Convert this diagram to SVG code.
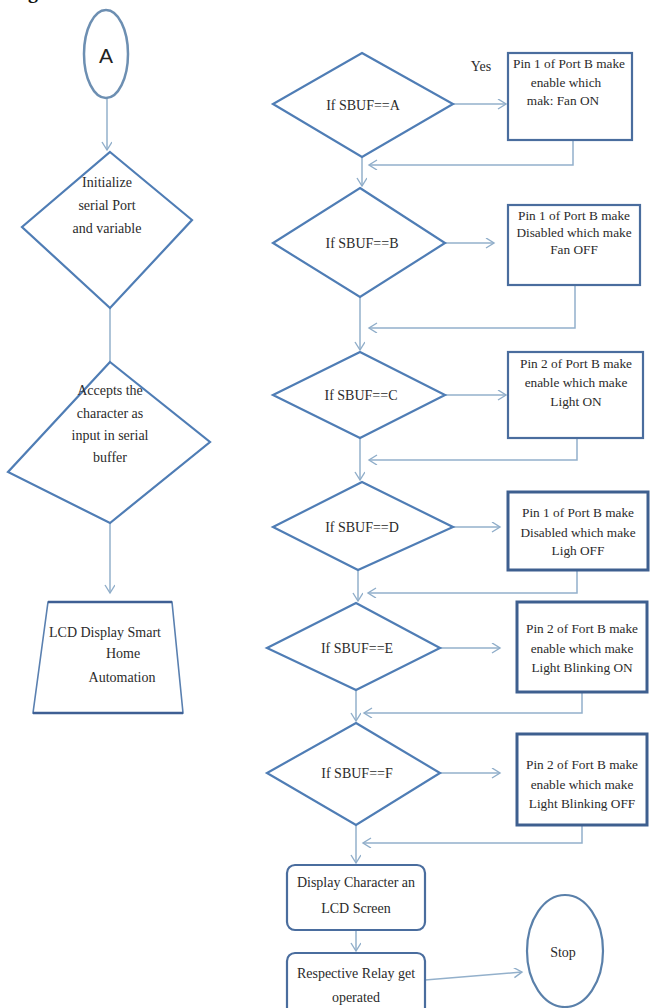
<svg xmlns="http://www.w3.org/2000/svg" width="650" height="1008" viewBox="0 0 650 1008">
<defs>
<marker id="arr" markerUnits="userSpaceOnUse" markerWidth="12" markerHeight="12" refX="9" refY="5" orient="auto">
<path d="M1,0 L9,5 L1,10" fill="none" stroke="#8fadc9" stroke-width="1.4"/>
</marker>
<style>
.t{font-family:"Liberation Serif","Times New Roman",serif;font-size:14px;fill:#2b2b2b;text-anchor:middle}
.s{font-size:13.3px}
.d{fill:#fff;stroke:#4f7db5;stroke-width:2.2}
.b{fill:#fff;stroke:#4a6d9e;stroke-width:2.2}
.bk{fill:#fff;stroke:#3e5f8f;stroke-width:3}
.c{fill:none;stroke:#93b0cb;stroke-width:1.5}
.ca{fill:none;stroke:#93b0cb;stroke-width:1.5;marker-end:url(#arr)}
</style>
</defs>
<rect width="650" height="1008" fill="#fff"/>
<text x="28" y="-2" font-family="Liberation Serif, serif" font-size="20" font-weight="bold" fill="#111">g</text>

<g id="connectors">
<path class="ca" d="M107,98 V150"/>
<path class="c" d="M110,308 V362"/>
<path class="ca" d="M110,523 V593"/>
<path class="ca" d="M362,157 V186"/>
<path class="ca" d="M360,297 V350"/>
<path class="ca" d="M360,438 V480"/>
<path class="ca" d="M358,570 V601"/>
<path class="ca" d="M356,690 V721"/>
<path class="ca" d="M356,825 V863"/>
<path class="ca" d="M356,930 V951"/>
<path class="ca" d="M453,104 H506"/>
<path class="ca" d="M445,243 H494"/>
<path class="ca" d="M445,395 H506"/>
<path class="ca" d="M453,527 H500"/>
<path class="ca" d="M440,648 H500"/>
<path class="ca" d="M440,773 H500"/>
<path class="ca" d="M573,140 V165 H369"/>
<path class="ca" d="M575,285 V328 H369"/>
<path class="ca" d="M577,438 V460 H369"/>
<path class="ca" d="M577,570 V593 H368"/>
<path class="ca" d="M582,692 V713 H364"/>
<path class="ca" d="M582,825 V843 H363"/>
<path class="ca" d="M425,980 L522,972"/>
<text x="481" y="71" class="t" font-size="13">Yes</text>
</g>

<g id="start">
<ellipse cx="106" cy="54" rx="22" ry="44" fill="#fff" stroke="#6d8fb2" stroke-width="2.5"/>
<text x="106" y="63" font-family="Liberation Sans, Arial, sans-serif" font-size="21" fill="#222" text-anchor="middle">A</text>
</g>

<g id="init">
<polygon class="d" points="110,152 192,220 110,308 22,227"/>
<text class="t" x="107" y="187">Initialize</text>
<text class="t" x="107" y="210">serial Port</text>
<text class="t" x="107" y="233">and variable</text>
</g>

<g id="accept">
<polygon class="d" points="110,362 210,442 110,523 8,472"/>
<text class="t" x="110" y="395">Accepts the</text>
<text class="t" x="110" y="418">character as</text>
<text class="t" x="110" y="440">input in serial</text>
<text class="t" x="110" y="462">buffer</text>
</g>

<g id="lcd">
<polygon points="48,602 172,602 183,713 33,713" fill="#fff" stroke="#5a80b0" stroke-width="1.6"/>
<path d="M48,602 H172 M33,713 H183" stroke="#3e5f94" stroke-width="2.4" fill="none"/>
<text class="t" x="105" y="637">LCD Display Smart</text>
<text class="t" x="123" y="658">Home</text>
<text class="t" x="122" y="682">Automation</text>
</g>

<g id="ifA">
<polygon class="d" points="362,53 453,104 362,157 273,104"/>
<text class="t" x="363" y="110">If SBUF==A</text>
</g>
<g id="boxA">
<rect class="b" x="508" y="53" width="124" height="87"/>
<text class="t s" x="569" y="68">Pin 1 of Port B make</text>
<text class="t s" x="566" y="87">enable which</text>
<text class="t s" x="563" y="105">mak: Fan ON</text>
</g>

<g id="ifB">
<polygon class="d" points="360,188 445,243 360,297 273,243"/>
<text class="t" x="362" y="248">If SBUF==B</text>
</g>
<g id="boxB">
<rect class="b" x="508" y="205" width="132" height="80"/>
<text class="t s" x="574" y="220">Pin 1 of Port B make</text>
<text class="t s" x="574" y="237">Disabled which make</text>
<text class="t s" x="574" y="254">Fan OFF</text>
</g>

<g id="ifC">
<polygon class="d" points="360,352 445,395 360,438 273,395"/>
<text class="t" x="361" y="400">If SBUF==C</text>
</g>
<g id="boxC">
<rect class="b" x="508" y="352" width="135" height="86"/>
<text class="t s" x="576" y="368">Pin 2 of Port B make</text>
<text class="t s" x="576" y="387">enable which make</text>
<text class="t s" x="576" y="406">Light ON</text>
</g>

<g id="ifD">
<polygon class="d" points="362,482 453,527 358,570 273,527"/>
<text class="t" x="362" y="532">If SBUF==D</text>
</g>
<g id="boxD">
<rect class="bk" x="508" y="492" width="140" height="78"/>
<text class="t s" x="578" y="517">Pin 1 of Port B make</text>
<text class="t s" x="578" y="537">Disabled which make</text>
<text class="t s" x="578" y="555">Ligh OFF</text>
</g>

<g id="ifE">
<polygon class="d" points="356,603 440,648 356,690 267,648"/>
<text class="t" x="357" y="653">If SBUF==E</text>
</g>
<g id="boxE">
<rect class="bk" x="517" y="602" width="130" height="90"/>
<text class="t s" x="582" y="633">Pin 2 of Fort B make</text>
<text class="t s" x="582" y="653">enable which make</text>
<text class="t s" x="582" y="672">Light Blinking ON</text>
</g>

<g id="ifF">
<polygon class="d" points="356,723 440,773 356,825 267,773"/>
<text class="t" x="357" y="778">If SBUF==F</text>
</g>
<g id="boxF">
<rect class="bk" x="517" y="734" width="130" height="91"/>
<text class="t s" x="582" y="769">Pin 2 of Fort B make</text>
<text class="t s" x="582" y="789">enable which make</text>
<text class="t s" x="582" y="808">Light Blinking OFF</text>
</g>

<g id="display">
<rect class="b" x="287" y="865" width="138" height="65" rx="8"/>
<text class="t" x="356" y="887">Display Character an</text>
<text class="t" x="356" y="913">LCD Screen</text>
</g>

<g id="relay">
<rect class="b" x="287" y="953" width="138" height="65" rx="8"/>
<text class="t" x="356" y="978">Respective Relay get</text>
<text class="t" x="356" y="1002">operated</text>
</g>

<g id="stop">
<ellipse cx="565" cy="951" rx="38" ry="56" fill="#fff" stroke="#5a80aa" stroke-width="2.2"/>
<text class="t" x="563" y="957">Stop</text>
</g>
</svg>
